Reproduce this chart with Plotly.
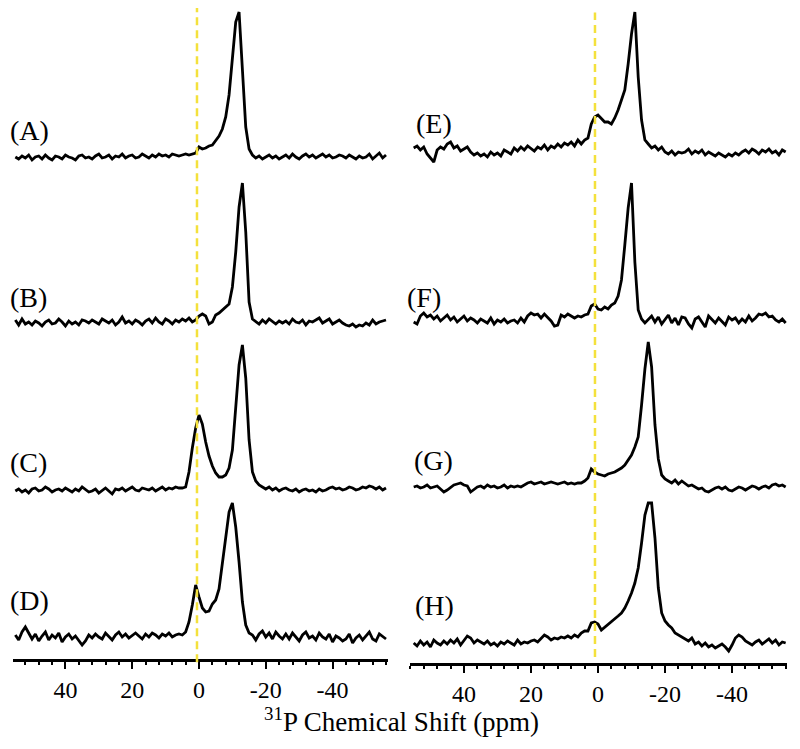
import plotly.graph_objects as go

# ---------------- data ----------------
# chemical-shift grid (ppm), 55 ... -56
X_PPM = list(range(55, -57, -1))

TICK_VALS = [40, 20, 0, -20, -40]
TICK_TEXT = ["40", "20", "0", "-20", "-40"]

LABELS_LEFT = ["(A)", "(B)", "(C)", "(D)"]
LABELS_RIGHT = ["(E)", "(F)", "(G)", "(H)"]

REF_SHIFT_LEFT = 0.6   # yellow dashed reference (ppm)
REF_SHIFT_RIGHT = 0.9

# intensities (arbitrary units) at each X_PPM point
SPEC_A = ([0, -2, 1, -1, 2, -3, 0, 1, -2, 2, -1, -3, 1, 0, -2, 2, 0, -1, -3, 1,
           2, -1, 0, -2, 1, 3, -1, 0, 2, -2, 1, 0, 3, -1, 1, 2, -1, 0, 3, 1,
           -1, 2, 0, 3, 1, 2, 0, 3, 2, 1]
          + [2, 3, 2, 3, 4, 10, 8, 9, 11, 12, 17, 21, 28, 40, 62, 100, 135, 145, 85, 30,
             8, 2, -1, 1, -2, 0, 2, -1, 1, -2, 0]
          + [2, -1, 3, 0, -2, 1, 3, 0, 2, -1, 1, 3, 0, 2, -1, 0, 2, 1, -1, 2,
             0, -2, 1, -1, 0, 3, -2, 1, 4, -1, 2])

SPEC_B = ([2, -3, 3, -2, 0, -3, 1, -1, -4, 0, 2, -2, -1, 3, 0, -4, 1, -2, 0, -3,
           2, 1, -1, 2, 0, -2, 3, 1, -1, 2, -3, 0, 5, -1, 1, -2, 2, 0, -3, 1,
           3, -1, 4, 0, -2, 3, 1, -2, 2, 0]
          + [3, 1, 4, 0, 2, 6, 8, 6, -2, 0, 7, 9, 12, 14, 18, 35, 70, 115, 139, 90,
             20, 3, 0, -2, 2, -1, 3, 0, -2, 1, -1]
          + [1, -2, 3, 0, -1, 2, -3, 1, 0, 2, 4, -1, 1, 3, -2, 0, 2, -1, -3, -4,
             -2, -5, -3, -4, -1, -3, 2, -2, 0, 1, 2])

SPEC_C = ([-1, 1, -2, 0, -3, 1, 2, -1, 0, 3, 1, -2, 0, 1, -1, 2, 0, -2, 1, -1,
           3, 0, -2, -1, 1, -3, 0, 2, -1, -4, 1, 0, 2, -1, 1, 3, 0, -1, 2, 1,
           0, 2, -1, 1, 3, 0, 2, 1, 3, 2]
          + [2, 3, 18, 42, 62, 75, 66, 48, 34, 24, 17, 13, 13, 15, 22, 40, 80, 125, 145, 112,
             50, 18, 9, 5, 3, 1, 3, 0, 2, -1, 1]
          + [2, 0, -1, 1, -2, 0, 1, -1, 0, -2, 1, -1, 0, 2, 3, 1, 2, 0, 1, 3,
             2, 0, 1, 3, 2, 4, 3, 1, 3, 0, 2])

SPEC_D = ([2, -3, 5, 10, 4, -2, 3, -4, 1, 5, -3, 2, -1, 4, -5, 0, 3, -2, 1, -3,
           -8, -4, 2, -1, 3, 0, -2, 4, 1, -3, 2, 5, 0, 3, -1, 2, 4, 1, -2, 3,
           0, 4, 2, -1, 3, 1, 4, 0, 2, 3]
          + [2, 5, 15, 32, 52, 40, 29, 25, 26, 33, 37, 48, 72, 100, 125, 134, 110, 75, 35, 12,
             4, 2, -3, 3, 6, 0, 4, -2, 5, 1, -2]
          + [3, -2, 4, 0, -4, 2, 5, -1, 1, -3, 4, 0, -2, 3, -5, 1, -1, -4, -2, 3,
             -6, -1, 2, -3, 1, 5, -2, -4, 3, 0, -2])

SPEC_E = ([4, 6, 2, 5, -2, -6, -10, 2, 5, 3, 8, 10, 4, 6, 1, 3, 5, 0, -3, -1,
           -4, -2, -5, 0, -3, -1, -4, 2, 0, -2, 4, 1, 5, 2, 6, 3, 1, 5, 3, 7,
           2, 6, 4, 8, 5, 9, 7, 10, 6, 12]
          + [8, 12, 14, 28, 35, 37, 34, 30, 30, 28, 34, 42, 52, 62, 88, 118, 140, 75, 32, 12,
             8, 4, 6, 2, 5, 0, -2, 1, -3, 0, -1]
          + [0, 3, -2, 1, -1, 2, -3, 0, -2, -4, -1, -3, -5, -2, -4, -1, -3, 0, 2, -1,
             3, 1, -2, 2, 0, 3, -1, 1, -3, 2, 0])

SPEC_F = ([-2, -4, 4, 7, 3, 5, 1, 4, -1, 2, 5, 0, 3, -2, 1, 4, -1, 2, 0, -3,
           1, -1, -3, 2, -4, 0, -2, 1, -3, -1, 0, -3, 2, -2, 4, 7, 5, 6, 2, 6,
           3, -1, -6, -5, 5, 3, 6, 4, 2, 4]
          + [3, 5, 6, 14, 16, 11, 10, 13, 11, 15, 17, 24, 40, 75, 112, 137, 58, 10, 1, -3,
             0, 4, -2, 3, -4, 1, 5, -3, 2, -5, 3]
          + [2, -4, -8, 1, 3, -2, -7, 4, 0, -3, 2, -1, -5, 3, 0, 2, -3, 1, -2, 4,
             -1, 2, 6, 5, 7, 3, 4, 0, -2, 1, -3])

SPEC_G = ([0, 1, -1, 0, 2, -1, 0, 1, -2, -5, -3, 0, 2, 3, 4, 2, 1, -5, -2, 0,
           1, -1, 2, 0, 1, -1, 0, 2, -1, 1, 0, 1, 0, 2, 4, 5, 3, 4, 5, 3,
           4, 5, 4, 3, 4, 5, 3, 4, 3, 4]
          + [4, 6, 9, 18, 15, 13, 12, 11, 13, 14, 15, 17, 19, 22, 27, 32, 40, 50, 82, 118,
             145, 120, 62, 28, 12, 8, 6, 4, 7, 3, 6]
          + [3, 1, 2, 0, -2, -1, -4, -5, -3, -1, 0, -2, 0, -3, -4, -2, 0, -1, -3, -1,
             1, 0, -2, 0, 1, -1, 2, 3, 1, 2, 0])

SPEC_H = ([0, -3, 2, -2, 1, -4, 3, 0, -2, 2, -1, 3, 0, 4, -2, 2, 7, 5, 0, 3,
           1, -1, 2, -2, 0, -3, 1, -1, 2, 0, -2, 3, -1, 1, 0, 2, 3, 1, 4, 8,
           6, 3, 5, 4, 6, 5, 7, 5, 8, 6]
          + [10, 12, 12, 20, 21, 19, 13, 16, 19, 22, 24, 27, 30, 35, 42, 50, 60, 75, 100, 128,
             140, 140, 105, 55, 30, 22, 18, 15, 10, 8, 6]
          + [4, 2, 5, -1, 1, -3, 0, -4, -2, -5, -3, -1, -4, -8, -2, 5, 8, 6, 2, 0,
             -2, 1, 3, -1, 2, 4, 0, 3, -2, 1, 0])

LEFT_SPECTRA = [SPEC_A, SPEC_B, SPEC_C, SPEC_D]
RIGHT_SPECTRA = [SPEC_E, SPEC_F, SPEC_G, SPEC_H]

# ---------------- layout constants ----------------
PAGE_OFF = 8                 # page body margin the figure sits inside
W, H = 800 - PAGE_OFF, 749 - PAGE_OFF
SERIF = "Liberation Serif, Times New Roman, serif"

def fx(px):  # reference pixel column -> paper fraction
    return (px - PAGE_OFF) / W

def fy(py):  # reference pixel row -> paper fraction
    return 1 - (py - PAGE_OFF) / H

# vertical stacking offsets (plot units = pixels above axis)
LEFT_OFFSETS = [502, 337, 169, 22]
RIGHT_OFFSETS = [511, 343, 176, 20]

LEFT_AXIS_Y = 659 - PAGE_OFF   # figure pixel row of left x-axis line
RIGHT_AXIS_Y = 663 - PAGE_OFF

fig = go.Figure()

for spec, off in zip(LEFT_SPECTRA, LEFT_OFFSETS):
    fig.add_trace(go.Scatter(x=X_PPM, y=[v + off for v in spec], mode="lines",
                             line=dict(color="black", width=2.8),
                             xaxis="x", yaxis="y", showlegend=False, hoverinfo="skip"))
for spec, off in zip(RIGHT_SPECTRA, RIGHT_OFFSETS):
    fig.add_trace(go.Scatter(x=X_PPM, y=[v + off for v in spec], mode="lines",
                             line=dict(color="black", width=2.8),
                             xaxis="x2", yaxis="y2", showlegend=False, hoverinfo="skip"))

def base_xaxis(domain, rng, anchor):
    return dict(domain=domain, range=rng, anchor=anchor,
                showline=True, linecolor="black", linewidth=2.5,
                showgrid=False, zeroline=False,
                tickmode="array", tickvals=TICK_VALS, ticktext=TICK_TEXT,
                ticks="outside", ticklen=7, tickwidth=2, tickcolor="black",
                tickfont=dict(family=SERIF, size=24, color="black"),
                minor=dict(tickmode="linear", tick0=0, dtick=4, ticks="outside",
                           ticklen=3, tickwidth=1.5, tickcolor="black", showgrid=False))

left_dom = [fx(13), fx(388)]
right_dom = [fx(410), fx(787)]
left_rng = [55.7, -56.6]
right_rng = [56.1, -56.4]

fig.update_layout(
    width=W, height=H,
    margin=dict(l=0, r=0, t=0, b=0),
    paper_bgcolor="white", plot_bgcolor="white",
    xaxis=base_xaxis(left_dom, left_rng, "y"),
    xaxis2=base_xaxis(right_dom, right_rng, "y2"),
    yaxis=dict(domain=[1 - LEFT_AXIS_Y / H, 1], range=[0, LEFT_AXIS_Y],
               visible=False, anchor="x"),
    yaxis2=dict(domain=[1 - RIGHT_AXIS_Y / H, 1], range=[0, RIGHT_AXIS_Y],
                visible=False, anchor="x2"),
)

# yellow dashed reference lines
fig.add_shape(type="line", xref="x", yref="y domain", x0=REF_SHIFT_LEFT, x1=REF_SHIFT_LEFT,
              y0=-0.005, y1=1.0, layer="above",
              line=dict(color="#F4E13C", width=2.5, dash="8px,5px"))
fig.add_shape(type="line", xref="x2", yref="y2 domain", x0=REF_SHIFT_RIGHT, x1=REF_SHIFT_RIGHT,
              y0=0.009, y1=0.993, layer="above",
              line=dict(color="#F4E13C", width=2.5, dash="8px,5px"))

# panel labels (reference pixel positions)
label_pos_left = [(8, 130), (8, 298), (8, 462), (8, 600)]
label_pos_right = [(414, 123), (405, 297), (412, 460), (413, 605)]
for txt, (px, py) in zip(LABELS_LEFT + LABELS_RIGHT, label_pos_left + label_pos_right):
    fig.add_annotation(text=txt, xref="paper", yref="paper",
                       x=fx(px), y=fy(py), xanchor="left", yanchor="middle",
                       showarrow=False, font=dict(family=SERIF, size=28, color="black"))

# axis title
fig.add_annotation(text="<sup>31</sup>P Chemical Shift (ppm)", xref="paper", yref="paper",
                   x=fx(401), y=fy(720), xanchor="center", yanchor="middle",
                   showarrow=False, font=dict(family=SERIF, size=27, color="black"))

fig.write_html("out.html")
